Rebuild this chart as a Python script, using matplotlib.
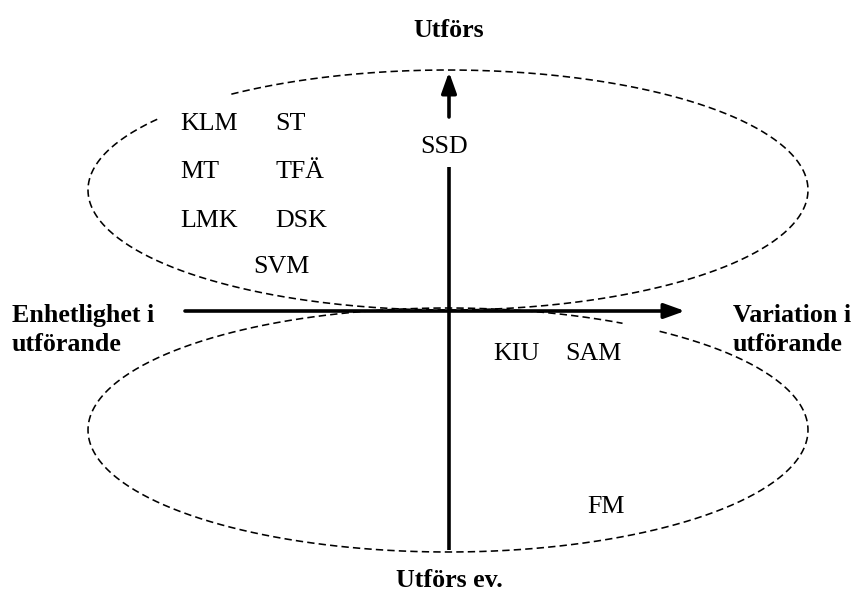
import numpy as np
import matplotlib.pyplot as plt

plt.rcParams['font.family'] = ['Liberation Serif', 'DejaVu Serif']

# group labels, left edge x and baseline y (page pixels, y downwards)
labels = ['KLM', 'ST', 'MT', 'TFÄ', 'LMK', 'DSK', 'SVM', 'SSD', 'KIU', 'SAM', 'FM']
label_x = [180, 275, 180, 275, 180, 275, 253, 420, 493, 565, 587]
label_y = [130, 130, 178, 178, 227, 227, 273, 153, 360, 360, 513]

# axis captions
top_title = 'Utförs'
bottom_title = 'Utförs ev.'
left_lines = ['Enhetlighet i', 'utförande']
right_lines = ['Variation i', 'utförande']

# dashed ellipses: centre x, centre y, half width, half height, gap (deg)
ellipses = [
    (448, 190, 360, 120, (217, 233)),
    (448, 430, 360, 122, (299, 306)),
]

W, H = 858, 592
fig = plt.figure(figsize=(W / 100, H / 100), dpi=100)
ax = fig.add_axes([0, 0, 1, 1])
ax.set_xlim(0, W)
ax.set_ylim(H, 0)
ax.axis('off')

for cx, cy, a, b, gap in ellipses:
    t = np.radians(np.linspace(gap[1], gap[0] + 360, 500))
    ax.plot(cx + a * np.cos(t), cy + b * np.sin(t), color='black', lw=1.15,
            ls=(0, (4.6, 2.6)), zorder=1)

lw_axis = 2.6
head = '-|>,head_length=1.25,head_width=0.45'
# vertical axis (broken where the SSD label sits)
ax.plot([449, 449], [550, 167], color='black', lw=lw_axis,
        solid_capstyle='butt', zorder=2)
ax.annotate('', xy=(449, 72), xytext=(449, 117),
            arrowprops=dict(arrowstyle=head, mutation_scale=10, lw=lw_axis,
                            color='black', shrinkA=0, shrinkB=0), zorder=2)
# horizontal axis
ax.annotate('', xy=(685, 311), xytext=(185, 311),
            arrowprops=dict(arrowstyle=head, mutation_scale=10, lw=lw_axis,
                            color='black', shrinkA=0, shrinkB=0), zorder=2)

fs = 18.7
for txt, x, y in zip(labels, label_x, label_y):
    ax.text(x, y, txt, fontsize=fs, ha='left', va='baseline', zorder=3)

ax.text(449, 37, top_title, fontsize=fs, fontweight='bold',
        ha='center', va='baseline')
ax.text(449, 587, bottom_title, fontsize=fs, fontweight='bold',
        ha='center', va='baseline')
for i, line in enumerate(left_lines):
    ax.text(12, 322 + 29 * i, line, fontsize=fs, fontweight='bold',
            ha='left', va='baseline')
for i, line in enumerate(right_lines):
    ax.text(733, 322 + 29 * i, line, fontsize=fs, fontweight='bold',
            ha='left', va='baseline')

fig.savefig('out.png', dpi=100, facecolor='white')
